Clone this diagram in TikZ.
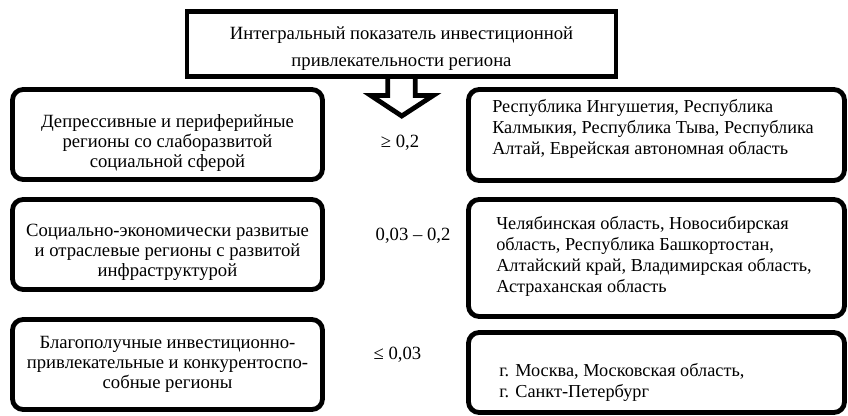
\documentclass[tikz,border=0pt]{standalone}
\usepackage{fontspec}
\setmainfont{Liberation Serif}
\usepackage{tikz}
\usetikzlibrary{positioning}

\begin{document}
\begin{tikzpicture}[
  x=0.75pt,y=-0.75pt,
  font=\fontsize{14pt}{15pt}\selectfont,
  frame/.style={draw=black,line width=3.6pt,outer sep=0pt,inner sep=0pt},
  head/.style={frame,minimum width=321.75pt,minimum height=48.75pt},
  lbox/.style={frame,rounded corners=8pt,minimum width=232.5pt,minimum height=67.5pt},
  rbox/.style={frame,rounded corners=8pt,minimum width=282pt,minimum height=#1},
  ltext/.style={align=center,inner sep=0pt},
  rtext/.style={align=left,anchor=west,inner sep=0pt,font=\fontsize{13.7pt}{15.75pt}\selectfont},
  val/.style={inner sep=0pt},
  hollow/.style={draw=black,line width=3.6pt,line join=miter}
]
  \useasboundingbox (0,0) rectangle (848,416);
  \node[head] (top) at (401.5,44) {};
  \node[ltext,font=\fontsize{14pt}{20.25pt}\selectfont] (toptxt) at (401.5,49) {Интегральный показатель инвестиционной\\привлекательности региона};
  \draw[hollow] (top.south) ++(-13.75,0) -- ++(0,19) -- ++(-17,0) -- ++(31,20.5) -- ++(31.5,-20.5) -- ++(-18,0) -- ++(0,-19);

  \node[lbox] (dep) at (167.5,134.5) {};
  \node[lbox] (soc) at (167.5,244.5) {};
  \node[lbox] (blag) at (167.5,364.5) {};
  \node[ltext] (deptxt) at (167.5,143) {Депрессивные и периферийные\\регионы со слаборазвитой\\социальной сферой};
  \node[ltext] (soctxt) at (167.5,252) {Социально-экономически развитые\\и отраслевые регионы с развитой\\инфраструктурой};
  \node[ltext] (blagtxt) at (167.5,364.5) {Благополучные инвестиционно-\\привлекательные и конкурентоспо-\\собные регионы};

  \node[val] (v1) at (400,143) {≥ 0,2};
  \node[val] (v2) at (413,236) {0,03 – 0,2};
  \node[val] (v3) at (397.5,355) {≤ 0,03};

  \node[rbox=68.25pt] (r1) at (656.5,135) {};
  \node[rbox=87.75pt] (r2) at (656.5,258) {};
  \node[rbox=60pt] (r3) at (656.5,372.5) {};
  \node[rtext] (r1txt) at (492,129) {Республика Ингушетия, Республика\\Калмыкия, Республика Тыва, Республика\\Алтай, Еврейская автономная область};
  \node[rtext] (r2txt) at (496,256) {Челябинская область, Новосибирская\\область, Республика Башкортостан,\\Алтайский край, Владимирская область,\\Астраханская область};
  \node[rtext] (r3txt) at (499,382) {г. Москва, Московская область,\\г. Санкт-Петербург};
\end{tikzpicture}
\end{document}
